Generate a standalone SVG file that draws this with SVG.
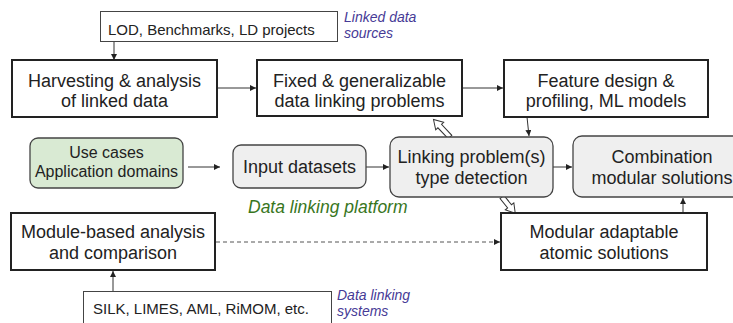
<svg xmlns="http://www.w3.org/2000/svg" width="733" height="323" viewBox="0 0 733 323">
<style>
  text { font-family: "Liberation Sans", Arial, sans-serif; fill: #222; }
  .big { font-size: 18px; text-anchor: middle; }
  .mid { font-size: 16px; text-anchor: middle; }
  .small { font-size: 15px; }
  .note { font-size: 14px; font-style: italic; fill: #463a96; }
  .platform { font-size: 17.5px; font-style: italic; fill: #38761d; }
  .main { fill: #fff; stroke: #222; stroke-width: 2; }
  .thin { fill: #fff; stroke: #444; stroke-width: 1; }
  .round { fill: #efefef; stroke: #444; stroke-width: 1.3; }
  .green { fill: #d9ead3; stroke: #444; stroke-width: 1.3; }
  .conn { fill: none; stroke: #333; stroke-width: 1; marker-end: url(#ah); }
  .dash { stroke-dasharray: 4 3; stroke: #555; }
  .hollow { fill: #fff; stroke: #333; stroke-width: 1; }
</style>
<defs>
  <marker id="ah" markerWidth="7" markerHeight="6" refX="6" refY="3" orient="auto" markerUnits="userSpaceOnUse">
    <path d="M0,0 L6,3 L0,6 Z" fill="#222"/>
  </marker>
</defs>
<rect width="733" height="323" fill="#fff"/>

<g id="connectors">
  <line class="conn" x1="114" y1="42" x2="114" y2="60"/>
  <line class="conn" x1="217" y1="88" x2="256" y2="88"/>
  <line class="conn" x1="462" y1="88" x2="503" y2="88"/>
  <line class="conn" x1="527" y1="117" x2="529" y2="136"/>
  <line class="conn" x1="188" y1="167" x2="220" y2="167"/>
  <line class="conn" x1="366" y1="167" x2="389" y2="167"/>
  <line class="conn" x1="553" y1="167" x2="572" y2="167"/>
  <line class="conn" x1="683" y1="213" x2="683" y2="198"/>
  <line class="conn" x1="113" y1="291" x2="113" y2="271"/>
  <line class="conn dash" x1="216" y1="242" x2="500" y2="242"/>
  <path class="hollow" transform="translate(450,137) rotate(-133.4)" d="M0,-2.5 L15,-2.5 L15,-5.5 L24,0 L15,5.5 L15,2.5 L0,2.5 Z"/>
  <path class="hollow" transform="translate(502,197) rotate(50.9)" d="M0,-2.5 L12,-2.5 L12,-5.5 L21,0 L12,5.5 L12,2.5 L0,2.5 Z"/>
</g>

<g id="lod">
  <rect class="thin" x="100.5" y="11.5" width="237" height="30"/>
  <text class="small" x="108" y="35">LOD, Benchmarks, LD projects</text>
</g>
<g id="lod-label">
  <text class="note" x="344" y="22">Linked data</text>
  <text class="note" x="344" y="38">sources</text>
</g>

<g id="harvesting">
  <rect class="main" x="12" y="60" width="205" height="57"/>
  <text class="big" x="114.5" y="87">Harvesting &amp; analysis</text>
  <text class="big" x="114.5" y="107">of linked data</text>
</g>

<g id="fixed">
  <rect class="main" x="257" y="60" width="205" height="56"/>
  <text class="big" x="359.5" y="87">Fixed &amp; generalizable</text>
  <text class="big" x="359.5" y="107">data linking problems</text>
</g>

<g id="feature">
  <rect class="main" x="504" y="60" width="204" height="57"/>
  <text class="big" x="606" y="87">Feature design &amp;</text>
  <text class="big" x="606" y="107">profiling, ML models</text>
</g>

<g id="usecases">
  <rect class="green" x="30" y="138" width="153" height="50" rx="8"/>
  <text class="mid" x="106.5" y="158">Use cases</text>
  <text class="mid" x="106.5" y="177">Application domains</text>
</g>

<g id="input">
  <rect class="round" x="233" y="145" width="133" height="43" rx="8"/>
  <text class="big" x="299.5" y="173">Input datasets</text>
</g>

<g id="linking">
  <rect class="round" x="390" y="137" width="163" height="60" rx="9"/>
  <text class="big" x="471.5" y="163">Linking problem(s)</text>
  <text class="big" x="471.5" y="184">type detection</text>
</g>

<g id="combination">
  <rect class="round" x="573" y="136" width="178" height="61" rx="9"/>
  <text class="big" x="662" y="163">Combination</text>
  <text class="big" x="662" y="184">modular solutions</text>
</g>

<g id="platform-label">
  <text class="platform" x="248" y="213">Data linking platform</text>
</g>

<g id="modulebased">
  <rect class="main" x="11" y="213" width="204" height="57"/>
  <text class="big" x="113" y="238">Module-based analysis</text>
  <text class="big" x="113" y="259">and comparison</text>
</g>

<g id="modular">
  <rect class="main" x="501" y="213" width="206" height="57"/>
  <text class="big" x="604" y="238">Modular adaptable</text>
  <text class="big" x="604" y="259">atomic solutions</text>
</g>

<g id="systems">
  <rect class="thin" x="83.5" y="291.5" width="248" height="40"/>
  <text class="small" x="93" y="314">SILK, LIMES, AML, RiMOM, etc.</text>
</g>
<g id="systems-label">
  <text class="note" x="337" y="300">Data linking</text>
  <text class="note" x="337" y="316">systems</text>
</g>
</svg>
